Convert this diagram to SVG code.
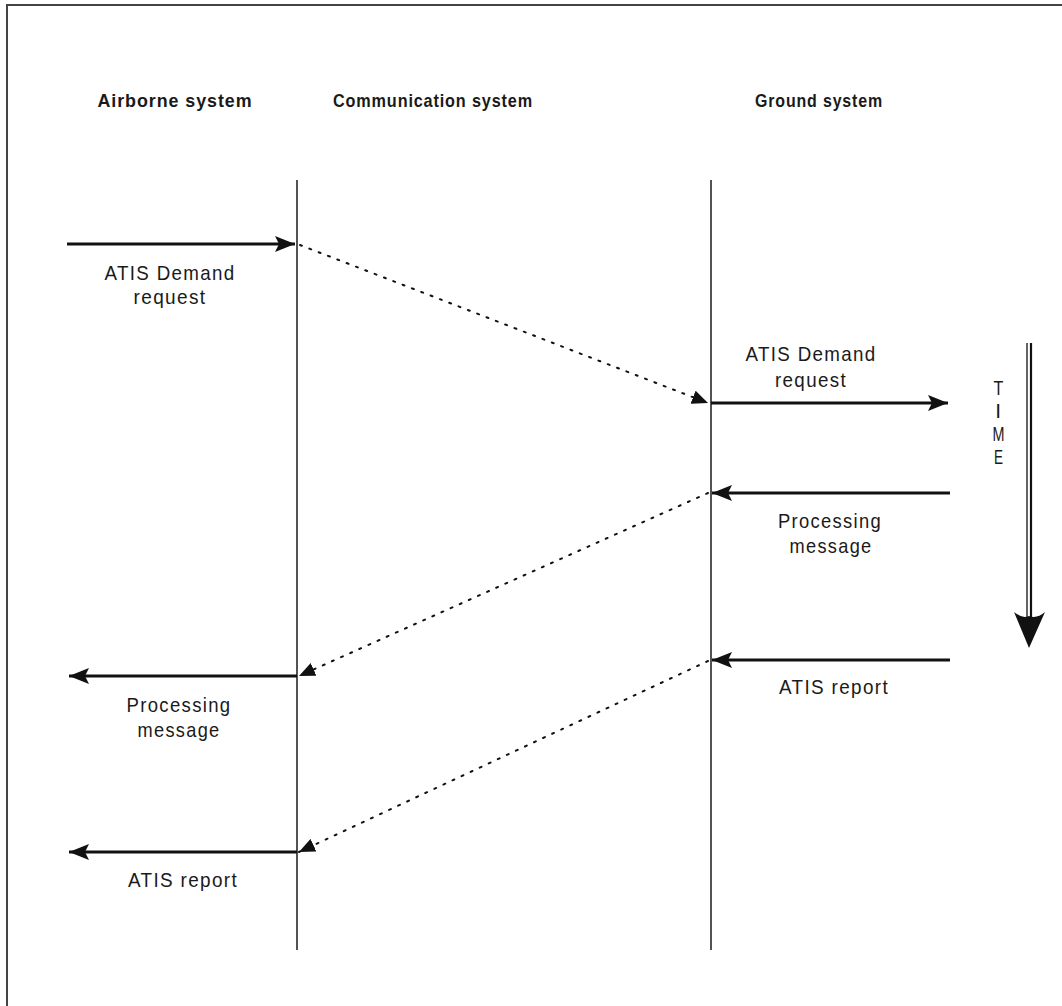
<svg xmlns="http://www.w3.org/2000/svg" width="1062" height="1006" viewBox="0 0 1062 1006">
<style>
.hdr{font-family:"Liberation Sans",Arial,sans-serif;font-weight:bold;font-size:19px;fill:#1a1a1a;text-anchor:middle;letter-spacing:1px}
.lbl{font-family:"Liberation Sans",Arial,sans-serif;font-size:21px;fill:#1a1a1a;text-anchor:middle;letter-spacing:1.5px}
.life{stroke:#1a1a1a;stroke-width:1.5;fill:none}
.solid{stroke:#111;stroke-width:3;fill:none}
.dot{stroke:#111;stroke-width:2;fill:none;stroke-dasharray:2 8;stroke-linecap:round}
</style>
<defs>
<marker id="ah" viewBox="0 0 20 16" refX="20" refY="8" markerWidth="20" markerHeight="16" markerUnits="userSpaceOnUse" orient="auto">
<path d="M0,0 L20,8 L0,16 L4,8 Z" fill="#111"/>
</marker>
<marker id="dh" viewBox="0 0 16 14" refX="16" refY="7" markerWidth="16" markerHeight="14" markerUnits="userSpaceOnUse" orient="auto">
<path d="M0,0 L16,7 L0,14 Z" fill="#111"/>
</marker>
</defs>
<rect width="1062" height="1006" fill="#fff"/>
<g id="frame">
<path d="M7,1006 L7,5 L1062,5" stroke="#444" stroke-width="2" fill="none"/>
</g>
<g id="airborne">
<text class="hdr" x="175" y="107" textLength="155" lengthAdjust="spacingAndGlyphs">Airborne system</text>
<line class="life" x1="297" y1="180" x2="297" y2="950"/>
</g>
<g id="communication">
<text class="hdr" x="433" y="107" textLength="200" lengthAdjust="spacingAndGlyphs">Communication system</text>
</g>
<g id="ground">
<text class="hdr" x="819" y="107" textLength="128" lengthAdjust="spacingAndGlyphs">Ground system</text>
<line class="life" x1="711" y1="180" x2="711" y2="950"/>
</g>
<g id="time">
<line x1="1027" y1="343" x2="1027" y2="625" stroke="#111" stroke-width="1.3"/>
<line x1="1031" y1="343" x2="1031" y2="625" stroke="#111" stroke-width="2.2"/>
<path d="M1014,612 Q1022,619 1029,616 Q1037,619 1045,612 L1029,648 Z" fill="#111"/>
<text class="lbl" x="999" y="395" textLength="11" lengthAdjust="spacingAndGlyphs">T</text>
<text class="lbl" x="999" y="418">I</text>
<text class="lbl" x="999" y="441" textLength="13" lengthAdjust="spacingAndGlyphs">M</text>
<text class="lbl" x="999" y="464" textLength="10" lengthAdjust="spacingAndGlyphs">E</text>
</g>
<g id="labels">
<text class="lbl" x="170" y="280" textLength="131" lengthAdjust="spacingAndGlyphs">ATIS Demand</text>
<text class="lbl" x="170" y="304" textLength="73" lengthAdjust="spacingAndGlyphs">request</text>
<text class="lbl" x="811" y="361" textLength="131" lengthAdjust="spacingAndGlyphs">ATIS Demand</text>
<text class="lbl" x="811" y="387" textLength="72" lengthAdjust="spacingAndGlyphs">request</text>
<text class="lbl" x="830" y="528" textLength="104" lengthAdjust="spacingAndGlyphs">Processing</text>
<text class="lbl" x="831" y="553" textLength="83" lengthAdjust="spacingAndGlyphs">message</text>
<text class="lbl" x="179" y="712" textLength="105" lengthAdjust="spacingAndGlyphs">Processing</text>
<text class="lbl" x="179" y="737" textLength="83" lengthAdjust="spacingAndGlyphs">message</text>
<text class="lbl" x="834" y="694" textLength="110" lengthAdjust="spacingAndGlyphs">ATIS report</text>
<text class="lbl" x="183" y="887" textLength="110" lengthAdjust="spacingAndGlyphs">ATIS report</text>
</g>
<g id="connectors">
<line class="solid" x1="67" y1="244" x2="295" y2="244" marker-end="url(#ah)"/>
<line class="dot" x1="300" y1="245" x2="708" y2="403" marker-end="url(#dh)"/>
<line class="solid" x1="711" y1="403" x2="948" y2="403" marker-end="url(#ah)"/>
<line class="solid" x1="950" y1="493" x2="712" y2="493" marker-end="url(#ah)"/>
<line class="dot" x1="708" y1="493" x2="299" y2="676" marker-end="url(#dh)"/>
<line class="solid" x1="297" y1="676" x2="69" y2="676" marker-end="url(#ah)"/>
<line class="solid" x1="950" y1="660" x2="712" y2="660" marker-end="url(#ah)"/>
<line class="dot" x1="708" y1="661" x2="299" y2="852" marker-end="url(#dh)"/>
<line class="solid" x1="297" y1="852" x2="69" y2="852" marker-end="url(#ah)"/>
</g>
</svg>
